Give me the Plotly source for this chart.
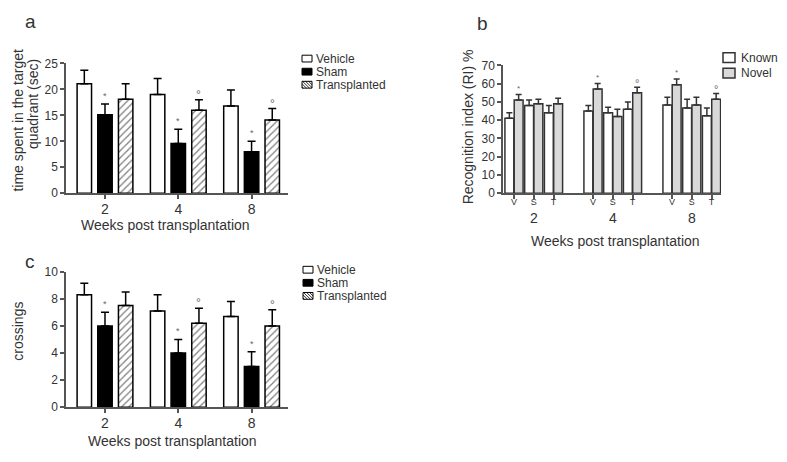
import plotly.graph_objects as go

# page has an 8px body margin: figure fills the rest of the 787x462 window
WIN_W, WIN_H = 787, 462
PAD = 8
W, H = WIN_W - 2 * PAD, WIN_H - 2 * PAD - 1

# ---------------- data ----------------
weeks = ["2", "4", "8"]
groups_ac = ["Vehicle", "Sham", "Transplanted"]

# panel a: time spent in target quadrant (sec)
time_vehicle = [21.1, 19.0, 16.8]
time_vehicle_err = [2.6, 3.1, 3.1]
time_sham = [15.1, 9.6, 8.0]
time_sham_err = [2.1, 2.7, 2.0]
time_trans = [18.1, 16.0, 14.1]
time_trans_err = [3.0, 2.0, 2.2]
time_sham_sig = ["*", "*", "*"]
time_trans_sig = ["", "°", "°"]

# panel c: crossings
cross_vehicle = [8.3, 7.1, 6.7]
cross_vehicle_err = [0.85, 1.2, 1.1]
cross_sham = [6.0, 4.0, 3.0]
cross_sham_err = [1.0, 1.0, 1.1]
cross_trans = [7.5, 6.2, 6.0]
cross_trans_err = [1.0, 1.1, 1.2]
cross_sham_sig = ["*", "*", "*"]
cross_trans_sig = ["", "°", "°"]

# panel b: recognition index (RI) %
treat_b = ["V", "S", "T"]
known_ri = [41, 48, 44, 45, 44, 46, 48.3, 46.7, 42.4]
known_ri_err = [3, 3, 4, 3, 3, 4, 4.2, 4.7, 4.3]
novel_ri = [51, 49, 49, 57, 42, 55, 59.4, 48.3, 51.4]
novel_ri_err = [3, 2.5, 3, 3, 4, 3, 3.2, 4.2, 3.2]
novel_sig = ["*", "", "", "*", "", "°", "*", "", "°"]

# ---------------- helpers (window pixel -> paper) ----------------
def px(x):
    return (x - PAD) / W

def py(y):
    return 1 - (y - PAD) / H

FONT = "Liberation Sans, Arial, sans-serif"
TXT = "#333333"
AX = "#555555"

fig = go.Figure()
annotations = []
shapes = []

# panels a & c: grouped bars with manual offsets
gpos = [0, 1, 2]
offs = [-0.282, 0.0, 0.282]
bw = 0.197

styles = [
    dict(color="white", line=dict(color="black", width=1.5)),
    dict(color="black", line=dict(color="black", width=1.5)),
    dict(color="white", line=dict(color="black", width=1.5),
         pattern=dict(shape="/", fgcolor="black", bgcolor="white", size=5, solidity=0.25)),
]

def add_panel(vals_list, errs_list, sigs, xa, ya):
    for k, (vals, errs) in enumerate(zip(vals_list, errs_list)):
        xs = [g + offs[k] for g in gpos]
        fig.add_trace(go.Bar(
            x=xs, y=vals, width=bw, name=groups_ac[k], showlegend=False,
            marker=styles[k],
            error_y=dict(type="data", symmetric=False, array=errs, arrayminus=[0] * len(errs),
                         color="black", thickness=1.5, width=4),
            xaxis=xa, yaxis=ya,
        ))
    for k, sig in sigs.items():
        for g, s in enumerate(sig):
            if not s:
                continue
            top = vals_list[k][g] + errs_list[k][g]
            annotations.append(dict(
                x=gpos[g] + offs[k], y=top, xref=xa, yref=ya, text=s, showarrow=False,
                yanchor="bottom", yshift=1 if s == "*" else -4,
                font=dict(size=9 if s == "*" else 12, color="#666666", family=FONT)))

add_panel([time_vehicle, time_sham, time_trans],
          [time_vehicle_err, time_sham_err, time_trans_err],
          {1: time_sham_sig, 2: time_trans_sig}, "x", "y")
add_panel([cross_vehicle, cross_sham, cross_trans],
          [cross_vehicle_err, cross_sham_err, cross_trans_err],
          {1: cross_sham_sig, 2: cross_trans_sig}, "x3", "y3")

# panel b
bpos = [4 * g + j for g in range(3) for j in range(3)]
boff = 0.235
bbw = 0.45
fig.add_trace(go.Bar(
    x=[p - boff for p in bpos], y=known_ri, width=bbw, name="Known", showlegend=False,
    marker=dict(color="white", line=dict(color="#333333", width=1.5)),
    error_y=dict(type="data", symmetric=False, array=known_ri_err, arrayminus=[0] * 9,
                 color="#333333", thickness=1.5, width=3),
    xaxis="x2", yaxis="y2"))
fig.add_trace(go.Bar(
    x=[p + boff for p in bpos], y=novel_ri, width=bbw, name="Novel", showlegend=False,
    marker=dict(color="#d9d9d9", line=dict(color="#333333", width=1.5)),
    error_y=dict(type="data", symmetric=False, array=novel_ri_err, arrayminus=[0] * 9,
                 color="#333333", thickness=1.5, width=3),
    xaxis="x2", yaxis="y2"))
for i, s in enumerate(novel_sig):
    if s:
        annotations.append(dict(
            x=bpos[i] + boff, y=novel_ri[i] + novel_ri_err[i], xref="x2", yref="y2", text=s,
            showarrow=False, yanchor="bottom", yshift=0 if s == "*" else -4,
            font=dict(size=8 if s == "*" else 11, color="#666666", family=FONT)))
for g, wk in enumerate(weeks):
    annotations.append(dict(x=4 * g + 1, y=py(218), xref="x2", yref="paper", text=wk,
                            showarrow=False, font=dict(size=14, color=TXT, family=FONT)))

# ---------------- axes ----------------
def xax(domain, rng, tickvals, ticktext, size, anchor, standoff=0):
    return dict(domain=domain, range=rng, tickvals=tickvals, ticktext=ticktext,
                ticks="outside", ticklen=4, tickwidth=1.5, tickcolor=AX,
                showline=True, linecolor=AX, linewidth=1.5, showgrid=False, zeroline=False,
                ticklabelstandoff=standoff,
                tickfont=dict(size=size, color=TXT, family=FONT), anchor=anchor, fixedrange=True)

def yax(domain, rng, dtick, anchor, size=12):
    return dict(domain=domain, range=rng, dtick=dtick, tick0=0,
                ticks="outside", ticklen=4, tickwidth=1.5, tickcolor=AX,
                showline=True, linecolor=AX, linewidth=1.5, showgrid=False, zeroline=False,
                tickfont=dict(size=size, color=TXT, family=FONT), anchor=anchor, fixedrange=True)

fig.update_layout(
    xaxis=xax([px(66), px(288)], [-0.532, 2.497], gpos, weeks, 14, "y", -2),
    yaxis=yax([py(192), py(58)], [0, 25], 5, "x"),
    xaxis3=xax([px(66), px(288)], [-0.532, 2.497], gpos, weeks, 14, "y3", -2),
    yaxis3=yax([py(413), py(273)], [0, 10], 2, "x3"),
    xaxis2=xax([px(503), px(721)], [-0.557, 10.48], bpos, treat_b * 3, 9, "y2", -5),
    yaxis2=yax([py(192), py(60)], [0, 70], 10, "x2", 12),
)

# ---------------- titles / labels ----------------
def txt(x, y, s, size=14, angle=0, xanchor="center", yanchor="middle", color=TXT):
    annotations.append(dict(x=px(x), y=py(y), xref="paper", yref="paper", text=s,
                            showarrow=False, textangle=angle, xanchor=xanchor, yanchor=yanchor,
                            font=dict(size=size, color=color, family=FONT)))

txt(30, 15, "a", 19)
txt(482, 17, "b", 19)
txt(30, 263, "c", 19)

txt(165, 225, "Weeks post transplantation", 14)
txt(172, 448, "Weeks post transplantation", 14)
txt(615, 241, "Weeks post transplantation", 14)

txt(18, 117, "time spent in the target", 14, -90)
txt(33, 100, "quadrant (sec)", 14, -90)
txt(18, 335, "crossings", 14, -90)
txt(468, 124, "Recognition index (RI) %", 14, -90)

# ---------------- legends (manual) ----------------
def hatch_path(x0, y0, w, h, step=3.0):
    segs = []
    c = step / 2
    while c < w + h:
        u0, u1 = max(0, c - h), min(w, c)
        if u1 > u0:
            xa, ya = x0 + u0, y0 + h - (c - u0)
            xb, yb = x0 + u1, y0 + h - (c - u1)
            segs.append("M%.4f,%.4f L%.4f,%.4f" % (px(xa), py(ya), px(xb), py(yb)))
        c += step
    return " ".join(segs)

def legend_ac(x0, ys, size=12.5):
    bwid, bh = 10, 7
    for k, name in enumerate(groups_ac):
        yc = ys[k]
        fill = "black" if k == 1 else "white"
        shapes.append(dict(type="rect", xref="paper", yref="paper",
                           x0=px(x0), x1=px(x0 + bwid), y0=py(yc + bh / 2), y1=py(yc - bh / 2),
                           line=dict(color="black", width=1), fillcolor=fill))
        if k == 2:
            shapes.append(dict(type="path", xref="paper", yref="paper",
                               path=hatch_path(x0, yc - bh / 2, bwid, bh),
                               line=dict(color="black", width=0.8)))
        txt(x0 + bwid + 1.5, yc, name, size, xanchor="left")

legend_ac(302, [53, 66.5, 80], 12)
legend_ac(303, [271, 284.5, 298], 12)

b_names = ["Known", "Novel"]
b_fill = ["white", "#d9d9d9"]
for k, name in enumerate(b_names):
    yc = [52, 68][k]
    shapes.append(dict(type="rect", xref="paper", yref="paper",
                       x0=px(723), x1=px(735), y0=py(yc + 5), y1=py(yc - 5),
                       line=dict(color="#333333", width=1.5), fillcolor=b_fill[k]))
    txt(739, yc, name, 12, xanchor="left")

fig.update_layout(
    width=W, height=H, autosize=False,
    margin=dict(l=0, r=0, t=0, b=0),
    paper_bgcolor="white", plot_bgcolor="white",
    barmode="overlay", showlegend=False,
    annotations=annotations, shapes=shapes,
    font=dict(family=FONT, color=TXT),
)

fig.write_html("out.html")
